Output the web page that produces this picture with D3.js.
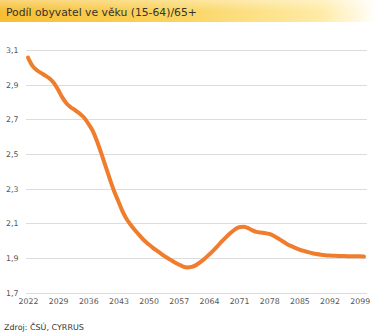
<!DOCTYPE html>
<html>
<head>
<meta charset="utf-8">
<script src="https://cdn.jsdelivr.net/npm/d3@7"></script>
<style>
  html, body { margin: 0; padding: 0; background: #fff; }
  svg { display: block; }
</style>
</head>
<body>
<svg id="chart" width="377" height="335"></svg>
<script>
const titleText = "Podíl obyvatel ve věku (15-64)/65+";
const sourceText = "Zdroj: ČSÚ, CYRRUS";
const years = d3.range(2022, 2101);
const values = [
  3.056, 3.010, 2.985, 2.968, 2.952, 2.935, 2.910, 2.870, 2.825, 2.790,
  2.768, 2.752, 2.733, 2.710, 2.675, 2.635, 2.575, 2.505, 2.430, 2.355,
  2.285, 2.225, 2.165, 2.120, 2.085, 2.055, 2.027, 2.000, 1.978, 1.958,
  1.940, 1.922, 1.905, 1.890, 1.875, 1.862, 1.850, 1.845, 1.848, 1.858,
  1.875, 1.895, 1.918, 1.942, 1.968, 1.995, 2.020, 2.043, 2.063, 2.077,
  2.080, 2.073, 2.060, 2.050, 2.046, 2.043, 2.038, 2.028, 2.013, 1.997,
  1.982, 1.969, 1.958, 1.948, 1.940, 1.933, 1.927, 1.922, 1.918, 1.915,
  1.913, 1.912, 1.911, 1.911, 1.910, 1.910, 1.910, 1.910, 1.908
];
const yTicks = [1.7, 1.9, 2.1, 2.3, 2.5, 2.7, 2.9, 3.1];
const xTicks = [2022, 2029, 2036, 2043, 2050, 2057, 2064, 2071, 2078, 2085, 2092, 2099];

const data = years.map((y, i) => ({ year: y, value: values[i] }));
const svg = d3.select("#chart");
const font = "'DejaVu Sans', Verdana, sans-serif";

// title bar gradients
const defs = svg.append("defs");
const gh = defs.append("linearGradient").attr("id", "gh").attr("x1", 0).attr("x2", 1).attr("y1", 0).attr("y2", 0);
gh.append("stop").attr("offset", "0%").attr("stop-color", "#F7BE33");
gh.append("stop").attr("offset", "45%").attr("stop-color", "#FAD35E");
gh.append("stop").attr("offset", "85%").attr("stop-color", "#FFEBA6");
gh.append("stop").attr("offset", "100%").attr("stop-color", "#FFFFFF");
const gv = defs.append("linearGradient").attr("id", "gv").attr("x1", 0).attr("x2", 0).attr("y1", 0).attr("y2", 1);
gv.append("stop").attr("offset", "0%").attr("stop-color", "#FFFFFF").attr("stop-opacity", 0.35);
gv.append("stop").attr("offset", "100%").attr("stop-color", "#FFFFFF").attr("stop-opacity", 0);

svg.append("rect").attr("x", 0).attr("y", 0).attr("width", 377).attr("height", 22).attr("fill", "url(#gh)");
svg.append("rect").attr("x", 0).attr("y", 0).attr("width", 377).attr("height", 11).attr("fill", "url(#gv)");

const title = svg.append("text")
  .attr("x", 6).attr("y", 15.5)
  .attr("font-family", font).attr("font-size", 12)
  .attr("fill", "#333")
  .text(titleText);
const tw = title.node().getComputedTextLength();
title.attr("font-size", 12 * 191 / tw);

const x = d3.scaleLinear().domain([2022, 2100]).range([28, 364]);
const y = d3.scaleLinear().domain([1.7, 3.1]).range([292.5, 50]);

// gridlines
svg.append("g").selectAll("line").data(yTicks).join("line")
  .attr("x1", 26).attr("x2", 367)
  .attr("y1", d => Math.round(y(d)) + 0.5).attr("y2", d => Math.round(y(d)) + 0.5)
  .attr("stroke", "#DCDCDC").attr("stroke-width", 1);

// y axis labels
const yAxis = d3.axisLeft(y).tickValues(yTicks).tickSize(0).tickPadding(0)
  .tickFormat(d => d3.format(".1f")(d).replace(".", ","));
const gy = svg.append("g").attr("transform", "translate(18.5,0)").call(yAxis);
gy.select(".domain").remove();
gy.selectAll("text").attr("font-family", font).attr("font-size", 7.8).attr("fill", "#555");

// x axis labels
const xAxis = d3.axisBottom(x).tickValues(xTicks).tickSize(0).tickPadding(0).tickFormat(d3.format("d"));
const gx = svg.append("g").attr("transform", "translate(0,298)").call(xAxis);
gx.select(".domain").remove();
gx.selectAll("text").attr("font-family", font).attr("font-size", 7.8).attr("fill", "#555");

// line
const line = d3.line().x(d => x(d.year)).y(d => y(d.value)).curve(d3.curveMonotoneX);
svg.append("path").datum(data)
  .attr("d", line)
  .attr("fill", "none")
  .attr("stroke", "#F07D2C")
  .attr("stroke-width", 4)
  .attr("stroke-linejoin", "round")
  .attr("stroke-linecap", "round");

// source
const src = svg.append("text").attr("x", 4).attr("y", 330)
  .attr("font-family", font).attr("font-size", 8).attr("fill", "#333")
  .text(sourceText);
const sw = src.node().getComputedTextLength();
src.attr("font-size", 8 * 80 / sw);
</script>
</body>
</html>
